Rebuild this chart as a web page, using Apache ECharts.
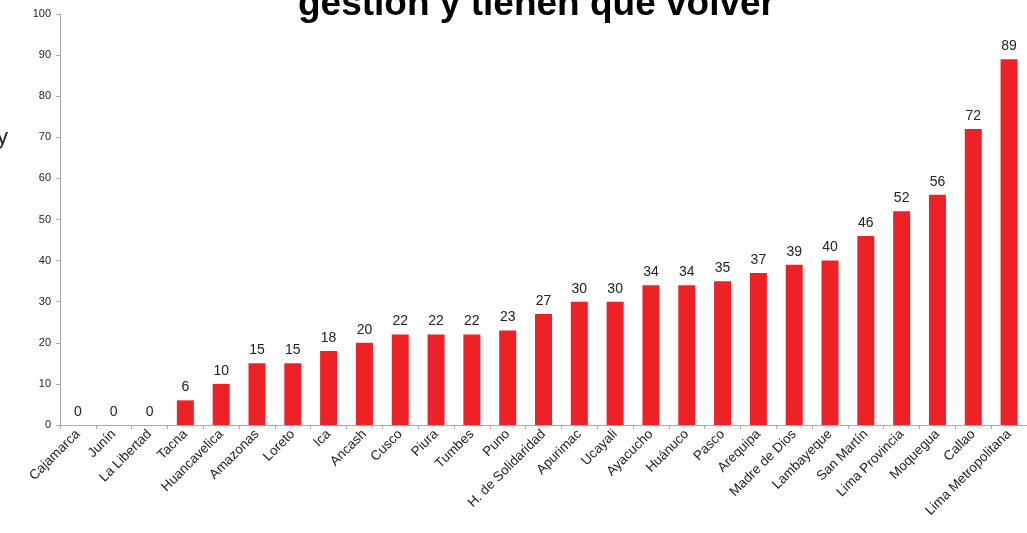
<!DOCTYPE html>
<html>
<head>
<meta charset="utf-8">
<script src="https://cdn.jsdelivr.net/npm/echarts@6/dist/echarts.min.js"></script>
<style>
  html, body { margin: 0; padding: 0; background: #fff; }
  #main { width: 1027px; height: 533px; }
</style>
</head>
<body>
<div id="main"></div>
<script>
// regiones ordenadas por valor
var regiones = ['Cajamarca', 'Junín', 'La Libertad', 'Tacna', 'Huancavelica', 'Amazonas', 'Loreto', 'Ica',
  'Ancash', 'Cusco', 'Piura', 'Tumbes', 'Puno', 'H. de Solidaridad', 'Apurimac', 'Ucayali', 'Ayacucho',
  'Huánuco', 'Pasco', 'Arequipa', 'Madre de Dios', 'Lambayeque', 'San Martín', 'Lima Provincia',
  'Moquegua', 'Callao', 'Lima Metropolitana'];
var valores = [0, 0, 0, 6, 10, 15, 15, 18, 20, 22, 22, 22, 23, 27, 30, 30, 34, 34, 35, 37, 39, 40, 46, 52, 56, 72, 89];
var titulo = 'gestión y tienen que volver';

var chart = echarts.init(document.getElementById('main'), null, { renderer: 'canvas' });

var option = {
  animation: false,
  backgroundColor: '#fff',
  textStyle: { fontFamily: 'Liberation Sans, Arial, sans-serif' },
  graphic: [
    {
      type: 'text',
      left: 298,
      top: -14,
      style: {
        text: titulo,
        fill: '#000',
        font: 'bold 37px "Liberation Sans", Arial, sans-serif'
      }
    },
    {
      type: 'text',
      left: -3,
      top: 127,
      style: {
        text: 'y',
        fill: '#222',
        font: '22px "Liberation Sans", Arial, sans-serif'
      }
    }
  ],
  grid: { left: 60, top: 14, width: 972, bottom: 108, containLabel: false },
  xAxis: {
    type: 'category',
    data: regiones,
    axisLine: { lineStyle: { color: '#aaa' } },
    axisTick: { show: true, length: 4, lineStyle: { color: '#aaa' } },
    axisLabel: {
      interval: 0,
      rotate: 45,
      color: '#222',
      fontSize: 13.5,
      margin: 7
    }
  },
  yAxis: {
    type: 'value',
    min: 0,
    max: 100,
    interval: 10,
    splitLine: { show: false },
    axisLine: { show: true, lineStyle: { color: '#aaa' } },
    axisTick: { show: true, length: 4, lineStyle: { color: '#aaa' } },
    axisLabel: { color: '#222', fontSize: 11, margin: 9 }
  },
  series: [{
    type: 'bar',
    data: valores,
    barWidth: 17,
    itemStyle: { color: '#ee2127' },
    label: {
      show: true,
      position: 'top',
      color: '#222',
      fontSize: 14,
      distance: 6
    }
  }]
};
chart.setOption(option);
</script>
</body>
</html>
